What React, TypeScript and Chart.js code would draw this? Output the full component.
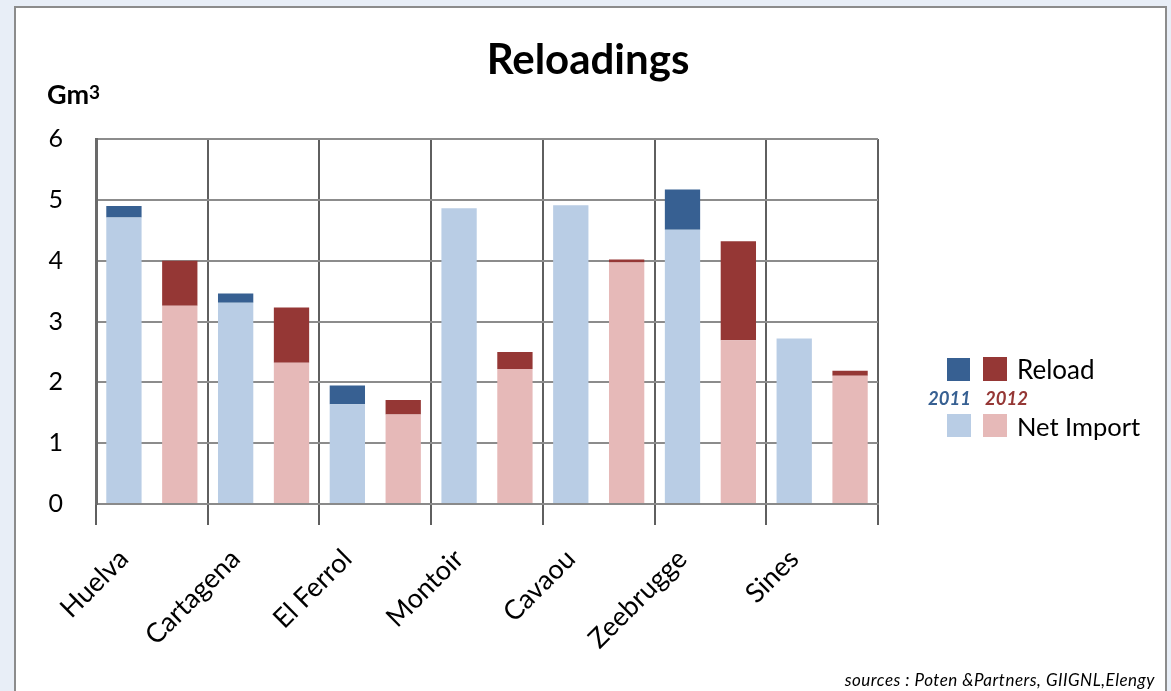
import React, { useEffect, useRef } from "react";
import { Chart, registerables } from "chart.js";

Chart.register(...registerables);

const terminals = ["Huelva", "Cartagena", "El Ferrol", "Montoir", "Cavaou", "Zeebrugge", "Sines"];
const netImport2011 = [4.71, 3.31, 1.64, 4.86, 4.91, 4.51, 2.72];
const reload2011 = [0.19, 0.15, 0.31, 0, 0, 0.66, 0];
const netImport2012 = [3.26, 2.32, 1.47, 2.22, 3.97, 2.69, 2.11];
const reload2012 = [0.74, 0.91, 0.24, 0.28, 0.05, 1.63, 0.08];
const yTicks = [0, 1, 2, 3, 4, 5, 6];

const FONT = "Lato, 'Open Sans', sans-serif";
const C_DARK_BLUE = "#376092";
const C_LIGHT_BLUE = "#b9cde5";
const C_DARK_RED = "#953735";
const C_LIGHT_RED = "#e6b9b8";

export default function App() {
  const canvasRef = useRef<HTMLCanvasElement | null>(null);

  useEffect(() => {
    const canvas = canvasRef.current;
    if (!canvas) return;
    const labels = terminals.flatMap((t) => [t, ""]);
    const first = (arr: number[]) => arr.flatMap((v) => [v, null]);
    const second = (arr: number[]) => arr.flatMap((v) => [null, v]);

    const chart = new Chart(canvas, {
      type: "bar",
      data: {
        labels,
        datasets: [
          { label: "Net Import 2011", data: first(netImport2011), backgroundColor: C_LIGHT_BLUE, stack: "s" },
          { label: "Reload 2011", data: first(reload2011), backgroundColor: C_DARK_BLUE, stack: "s" },
          { label: "Net Import 2012", data: second(netImport2012), backgroundColor: C_LIGHT_RED, stack: "s" },
          { label: "Reload 2012", data: second(reload2012), backgroundColor: C_DARK_RED, stack: "s" },
        ] as any,
      },
      options: {
        animation: false,
        responsive: false,
        maintainAspectRatio: false,
        layout: { padding: { left: 0, right: 293, top: 139, bottom: 0 } },
        datasets: { bar: { categoryPercentage: 1, barPercentage: 0.632 } } as any,
        plugins: {
          legend: { display: false },
          title: { display: false },
          tooltip: { enabled: false },
        },
        scales: {
          x: {
            stacked: true,
            offset: true,
            afterFit: (scale: any) => {
              scale.height = 187;
            },
            grid: {
              offset: true,
              drawOnChartArea: true,
              drawTicks: true,
              tickLength: 21,
              lineWidth: 2,
              color: (ctx: any) =>
                ctx.index === undefined || ctx.index % 2 === 0 ? "#5f5f5f" : "rgba(0,0,0,0)",
            },
            border: { display: true, color: "#8a8a8a", width: 2 },
            ticks: {
              autoSkip: false,
              maxRotation: 45,
              minRotation: 45,
              padding: 18,
              color: "#000",
              font: { family: FONT, size: 27 },
            },
          },
          y: {
            stacked: true,
            min: 0,
            max: 6,
            afterFit: (scale: any) => {
              scale.width = 96;
            },
            afterBuildTicks: (scale: any) => {
              scale.ticks = yTicks.map((v) => ({ value: v }));
            },
            grid: {
              drawTicks: false,
              lineWidth: 2,
              color: "#8c8c8c",
            },
            border: { display: true, color: "#6a6a6a", width: 3 },
            ticks: {
              padding: 33,
              color: "#000",
              font: { family: FONT, size: 25 },
            },
          },
        },
      } as any,
    });
    return () => chart.destroy();
  }, []);

  const sq = (left: number, top: number, w: number, h: number, color: string) => (
    <div style={{ position: "absolute", left, top, width: w, height: h, background: color }} />
  );

  return (
    <div
      style={{
        position: "fixed",
        left: 0,
        top: 0,
        width: 1171,
        height: 691,
        background: "#e8eef7",
        overflow: "hidden",
        fontFamily: FONT,
        color: "#000",
      }}
    >
      <div
        style={{
          position: "absolute",
          left: 14,
          top: 6,
          width: 1153,
          height: 720,
          background: "#fff",
          border: "2px solid #8c8c8c",
          boxSizing: "border-box",
        }}
      />
      <canvas
        ref={canvasRef}
        width={1171}
        height={691}
        style={{ position: "absolute", left: 0, top: 0, width: 1171, height: 691 }}
      />
      <div
        style={{
          position: "absolute",
          left: 388,
          top: 37,
          width: 400,
          textAlign: "center",
          fontSize: 42,
          fontWeight: 700,
          lineHeight: "42px",
        }}
      >
        Reloadings
      </div>
      <div
        style={{
          position: "absolute",
          left: 47,
          top: 80,
          fontSize: 27,
          fontWeight: 700,
          lineHeight: "27px",
          whiteSpace: "nowrap",
        }}
      >
        Gm
        <span style={{ fontSize: 19, verticalAlign: "top", position: "relative", top: -2 }}>3</span>
      </div>
      {sq(947, 358, 23, 23, C_DARK_BLUE)}
      {sq(983, 357, 24, 24, C_DARK_RED)}
      <div style={{ position: "absolute", left: 1017, top: 355, fontSize: 26, lineHeight: "28px" }}>Reload</div>
      <div
        style={{
          position: "absolute",
          left: 928,
          top: 388,
          fontSize: 18.5,
          fontWeight: 700,
          fontStyle: "italic",
          lineHeight: "20px",
          color: C_DARK_BLUE,
        }}
      >
        2011
      </div>
      <div
        style={{
          position: "absolute",
          left: 985,
          top: 388,
          fontSize: 18.5,
          fontWeight: 700,
          fontStyle: "italic",
          lineHeight: "20px",
          color: C_DARK_RED,
        }}
      >
        2012
      </div>
      {sq(947, 414, 24, 23, C_LIGHT_BLUE)}
      {sq(983, 414, 24, 23, C_LIGHT_RED)}
      <div style={{ position: "absolute", left: 1017, top: 412, fontSize: 25.5, lineHeight: "28px" }}>Net Import</div>
      <div
        style={{
          position: "absolute",
          right: 16,
          top: 671,
          fontSize: 17,
          fontStyle: "italic",
          lineHeight: "18px",
          letterSpacing: "0.5px",
          whiteSpace: "nowrap",
        }}
      >
        sources : Poten &Partners, GIIGNL,Elengy
      </div>
    </div>
  );
}
